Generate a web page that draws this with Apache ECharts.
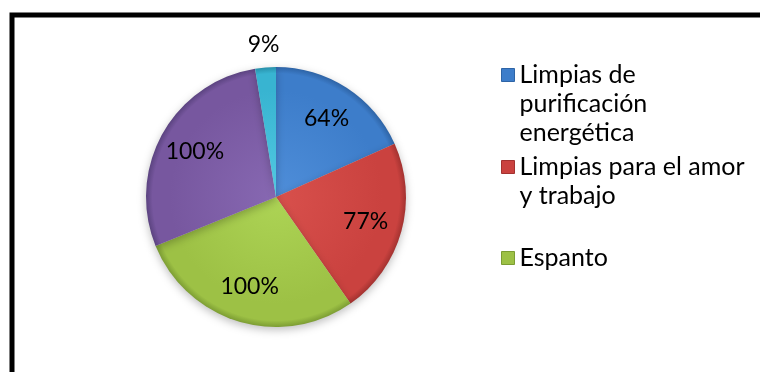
<!DOCTYPE html>
<html>
<head>
<meta charset="utf-8">
<script src="https://cdn.jsdelivr.net/npm/echarts@6/dist/echarts.min.js"></script>
<style>
  html, body { margin: 0; padding: 0; background: #fff; }
  #chart { width: 760px; height: 372px; }
</style>
</head>
<body>
<div id="chart"></div>
<script>
// Categories shown in the pie (the last two are not listed in the legend)
const categories = [
  'Limpias de purificación energética',
  'Limpias para el amor y trabajo',
  'Espanto',
  'Categoría 4',
  'Categoría 5'
];
// Percent values drawn as slices
const values = [64, 77, 100, 100, 9];
// Legend entries, wrapped as in the legend box
const legendNames = categories.slice(0, 3);
const legendLines = [
  ['Limpias de', 'purificación', 'energética'],
  ['Limpias para el amor', 'y trabajo'],
  ['Espanto']
];

// Slice shading: [inner, middle, rim]
const palette = [
  ['#4f8ed9', '#3d7dca', '#2e64a6'],
  ['#d8504c', '#ca423f', '#a33230'],
  ['#add455', '#9dc145', '#7c9d33'],
  ['#8768b2', '#77579f', '#5b4380'],
  ['#52c9e2', '#38b4d1', '#2890aa']
];
const flat = ['#3d7dca', '#ca423f', '#9dc145', '#77579f', '#38b4d1'];

const cx = 276, cy = 197, R = 130;
const LINE = 29;

function grad(c) {
  return {
    type: 'radial', x: cx, y: cy, r: R, global: true,
    colorStops: [
      { offset: 0, color: c[0] },
      { offset: 0.82, color: c[1] },
      { offset: 0.95, color: c[1] },
      { offset: 1, color: c[2] }
    ]
  };
}

const pieData = categories.map((name, i) => ({
  name: name,
  value: values[i],
  itemStyle: { color: grad(palette[i]) }
}));

const fmt = p => p.value + '%';
const labelFont = { fontFamily: 'Lato', fontSize: 23, color: '#000' };

// Inner labels sit on a ring whose middle is ~0.69 R
const innerLabelData = categories.map((name, i) => ({
  name: name,
  value: values[i],
  label: { show: values[i] > 20 }
}));
// Small-slice label sits just outside the rim
const outerLabelData = categories.map((name, i) => ({
  name: name,
  value: values[i],
  label: { show: values[i] <= 20 }
}));

// The icon centres on the text block, so blank lines are prepended
// to keep it level with the first text line.
function legendText(lines) {
  const pad = new Array(lines.length - 1).fill('').join('\n');
  return (lines.length > 1 ? pad + '\n' : '') + lines.join('\n');
}

const legendTops = [75, 167, 258].map((y, i) => y - LINE / 2 - (legendLines[i].length - 1) * LINE);

const legends = legendNames.map((name, i) => ({
  orient: 'vertical',
  left: 501,
  top: legendTops[i],
  padding: 0,
  itemWidth: 13,
  itemHeight: 13,
  icon: 'rect',
  selectedMode: false,
  formatter: n => legendText(legendLines[legendNames.indexOf(n)]),
  textStyle: {
    fontFamily: 'Lato', fontSize: 25, color: '#000', lineHeight: LINE
  },
  data: [{
    name: name,
    itemStyle: { color: flat[i], borderColor: palette[i][2], borderWidth: 1 }
  }]
}));

const chart = echarts.init(document.getElementById('chart'), null, { renderer: 'canvas' });
chart.setOption({
  backgroundColor: '#fff',
  animation: false,
  legend: legends,
  graphic: [{
    type: 'rect',
    shape: { x: 12, y: 15, width: 900, height: 500 },
    style: { fill: 'none', stroke: '#000', lineWidth: 5 },
    z: 100
  }],
  series: [
    {
      type: 'pie',
      center: [cx, cy],
      radius: [0, R],
      startAngle: 90,
      clockwise: true,
      silent: true,
      label: { show: false },
      labelLine: { show: false },
      itemStyle: {
        borderWidth: 0,
        shadowBlur: 8,
        shadowOffsetY: 3,
        shadowColor: 'rgba(0,0,0,0.25)'
      },
      data: pieData
    },
    {
      type: 'pie',
      center: [cx, cy],
      radius: [50, R],
      startAngle: 90,
      clockwise: true,
      silent: true,
      itemStyle: { color: 'rgba(0,0,0,0)' },
      label: Object.assign({ position: 'inside', formatter: fmt }, labelFont),
      labelLine: { show: false },
      data: innerLabelData
    },
    {
      type: 'pie',
      center: [cx, cy],
      radius: [R, R + 40],
      startAngle: 90,
      clockwise: true,
      silent: true,
      itemStyle: { color: 'rgba(0,0,0,0)' },
      label: Object.assign({ position: 'inside', formatter: fmt }, labelFont),
      labelLine: { show: false },
      data: outerLabelData
    }
  ]
});
</script>
</body>
</html>
